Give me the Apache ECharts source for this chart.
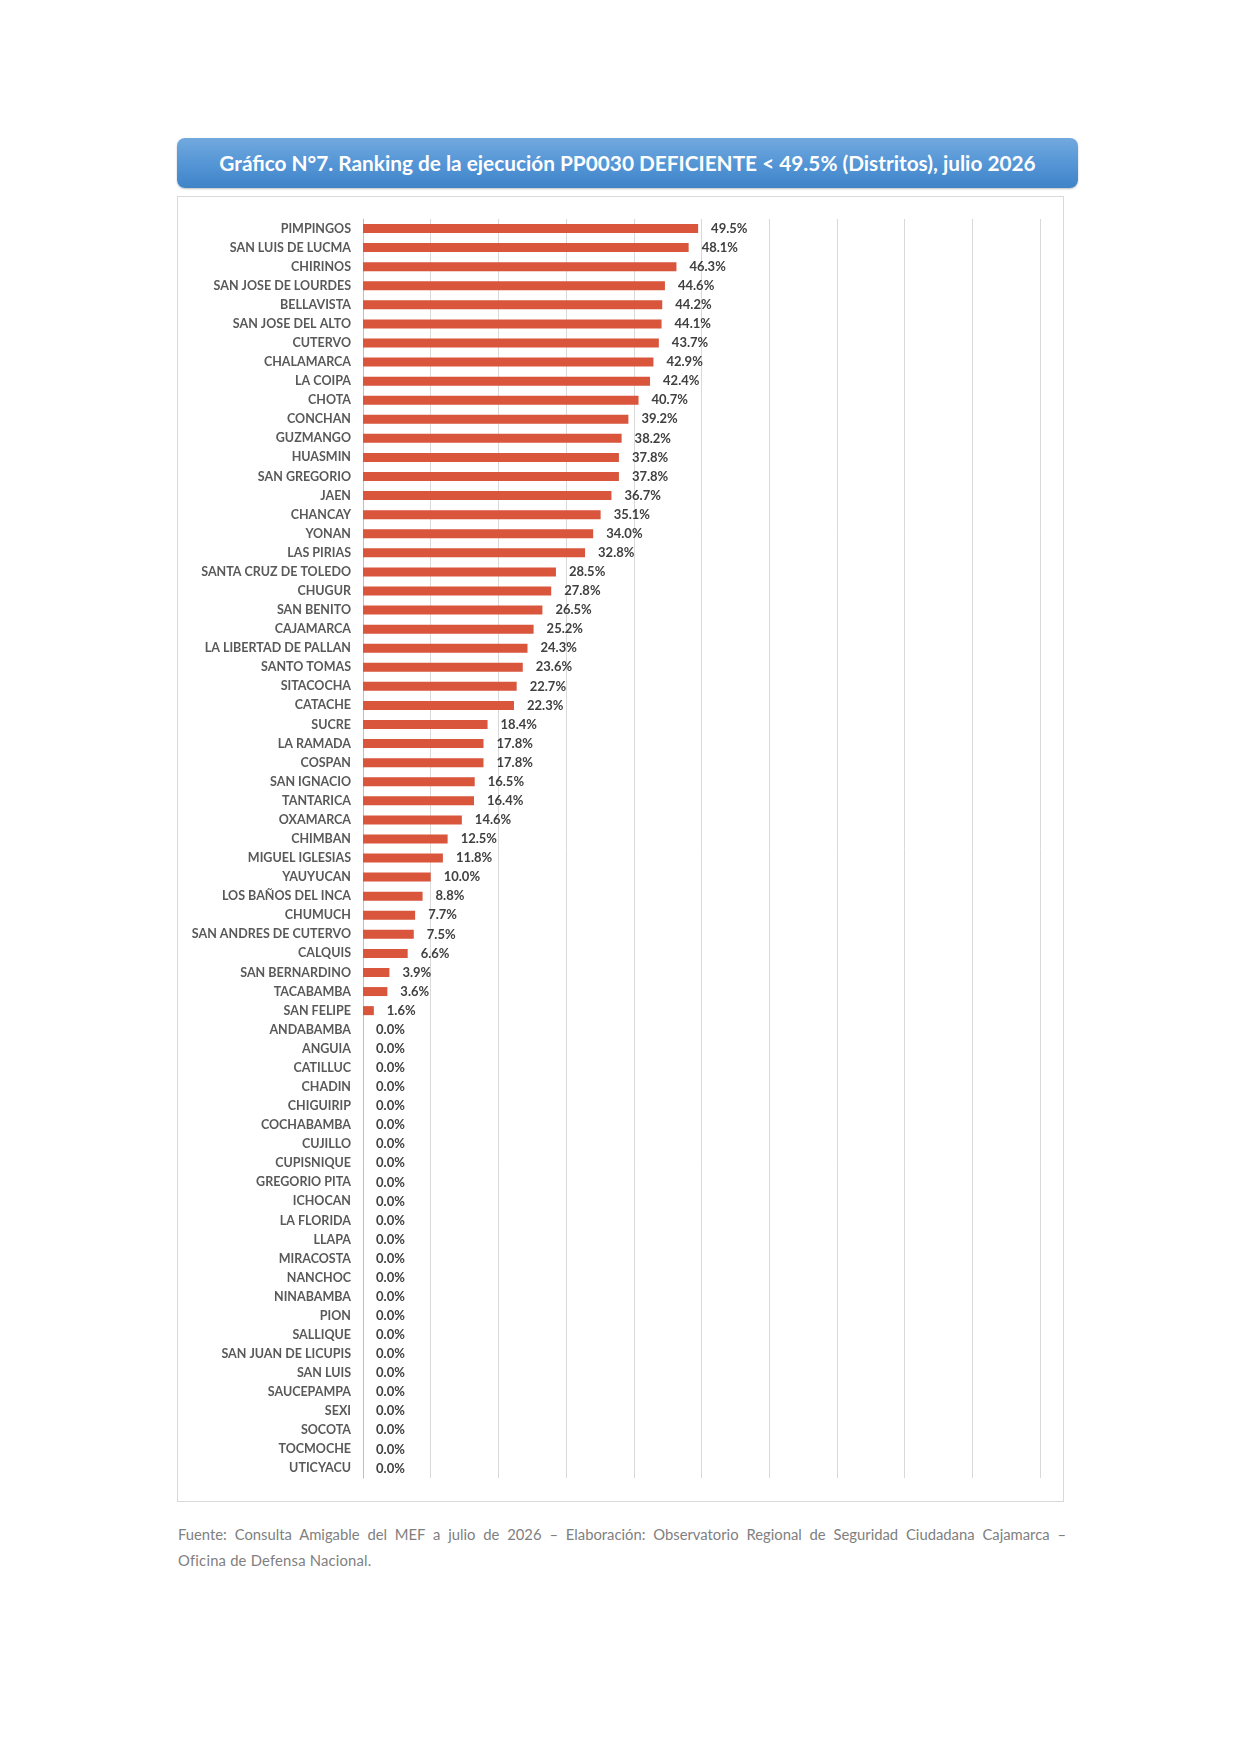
<!DOCTYPE html>
<html>
<head>
<meta charset="utf-8">
<script src="https://cdn.jsdelivr.net/npm/echarts@6/dist/echarts.min.js"></script>
<style>
  html, body { margin: 0; padding: 0; background: #fff; }
  body { width: 1240px; height: 1754px; position: relative; font-family: Lato, "Open Sans", sans-serif; }
  #titulo {
    position: absolute; left: 177px; top: 138px; width: 901px; height: 50px;
    border-radius: 8px;
    background: linear-gradient(to bottom, #72a9de 0%, #5596d6 50%, #3f84c8 100%);
    box-shadow: 0 1px 2px rgba(0,0,0,0.25);
    color: #fff; font-weight: bold; font-size: 20.8px;
    line-height: 50px; text-align: center;
  }
  #grafico {
    position: absolute; left: 177px; top: 196px; width: 885px; height: 1304px;
    border: 1px solid #d9d9d9;
  }
  #fuente {
    position: absolute; left: 178px; top: 1521px; width: 888px;
    font-size: 14.8px; line-height: 26px; color: #808080;
  }
  #fuente .l1 { display: block; text-align: justify; text-align-last: justify; }
  #fuente .l2 { display: block; text-align: left; letter-spacing: 0.2px; }
</style>
</head>
<body>
<div id="titulo">Gráfico N°7. Ranking de la ejecución PP0030 DEFICIENTE &lt; 49.5% (Distritos), julio 2026</div>
<div id="grafico"></div>
<div id="fuente"><span class="l1">Fuente: Consulta Amigable del MEF a julio de 2026 – Elaboración: Observatorio Regional de Seguridad Ciudadana Cajamarca –</span><span class="l2">Oficina de Defensa Nacional.</span></div>
<script>
var distritos = ['PIMPINGOS', 'SAN LUIS DE LUCMA', 'CHIRINOS', 'SAN JOSE DE LOURDES', 'BELLAVISTA',
    'SAN JOSE DEL ALTO', 'CUTERVO', 'CHALAMARCA', 'LA COIPA', 'CHOTA', 'CONCHAN', 'GUZMANGO',
    'HUASMIN', 'SAN GREGORIO', 'JAEN', 'CHANCAY', 'YONAN', 'LAS PIRIAS', 'SANTA CRUZ DE TOLEDO',
    'CHUGUR', 'SAN BENITO', 'CAJAMARCA', 'LA LIBERTAD DE PALLAN', 'SANTO TOMAS', 'SITACOCHA',
    'CATACHE', 'SUCRE', 'LA RAMADA', 'COSPAN', 'SAN IGNACIO', 'TANTARICA', 'OXAMARCA', 'CHIMBAN',
    'MIGUEL IGLESIAS', 'YAUYUCAN', 'LOS BAÑOS DEL INCA', 'CHUMUCH', 'SAN ANDRES DE CUTERVO',
    'CALQUIS', 'SAN BERNARDINO', 'TACABAMBA', 'SAN FELIPE', 'ANDABAMBA', 'ANGUIA', 'CATILLUC',
    'CHADIN', 'CHIGUIRIP', 'COCHABAMBA', 'CUJILLO', 'CUPISNIQUE', 'GREGORIO PITA', 'ICHOCAN',
    'LA FLORIDA', 'LLAPA', 'MIRACOSTA', 'NANCHOC', 'NINABAMBA', 'PION', 'SALLIQUE',
    'SAN JUAN DE LICUPIS', 'SAN LUIS', 'SAUCEPAMPA', 'SEXI', 'SOCOTA', 'TOCMOCHE', 'UTICYACU'];

var ejecucion = [49.5, 48.1, 46.3, 44.6, 44.2, 44.1, 43.7, 42.9, 42.4, 40.7, 39.2, 38.2,
    37.8, 37.8, 36.7, 35.1, 34.0, 32.8, 28.5, 27.8, 26.5, 25.2, 24.3, 23.6, 22.7,
    22.3, 18.4, 17.8, 17.8, 16.5, 16.4, 14.6, 12.5, 11.8, 10.0, 8.8, 7.7, 7.5,
    6.6, 3.9, 3.6, 1.6, 0, 0, 0, 0, 0, 0, 0, 0, 0, 0,
    0, 0, 0, 0, 0, 0, 0, 0, 0, 0, 0, 0, 0, 0];

var grafico = echarts.init(document.getElementById('grafico'));
option = {
    animation: false,
    grid: {
        left: 185,
        top: 22,
        width: 677,
        height: 1259
    },
    xAxis: {
        type: 'value',
        min: 0,
        max: 100,
        interval: 10,
        axisLabel: { show: false },
        axisLine: { show: false },
        axisTick: { show: false },
        splitLine: { lineStyle: { color: '#d9d9d9', width: 1 } }
    },
    yAxis: {
        type: 'category',
        inverse: true,
        data: distritos,
        axisTick: { show: false },
        axisLine: { lineStyle: { color: '#bfbfbf', width: 1 } },
        axisLabel: {
            margin: 12,
            fontFamily: 'Lato',
            fontWeight: 'bold',
            fontSize: 12.5,
            color: '#595959'
        }
    },
    series: [{
        type: 'bar',
        data: ejecucion,
        barWidth: 9,
        itemStyle: { color: '#d9553b' },
        label: {
            show: true,
            position: 'right',
            distance: 13,
            fontFamily: 'Lato',
            fontWeight: 'bold',
            fontSize: 13,
            color: '#404040',
            formatter: function (p) { return p.value.toFixed(1) + '%'; }
        }
    }]
};
grafico.setOption(option);
</script>
</body>
</html>
